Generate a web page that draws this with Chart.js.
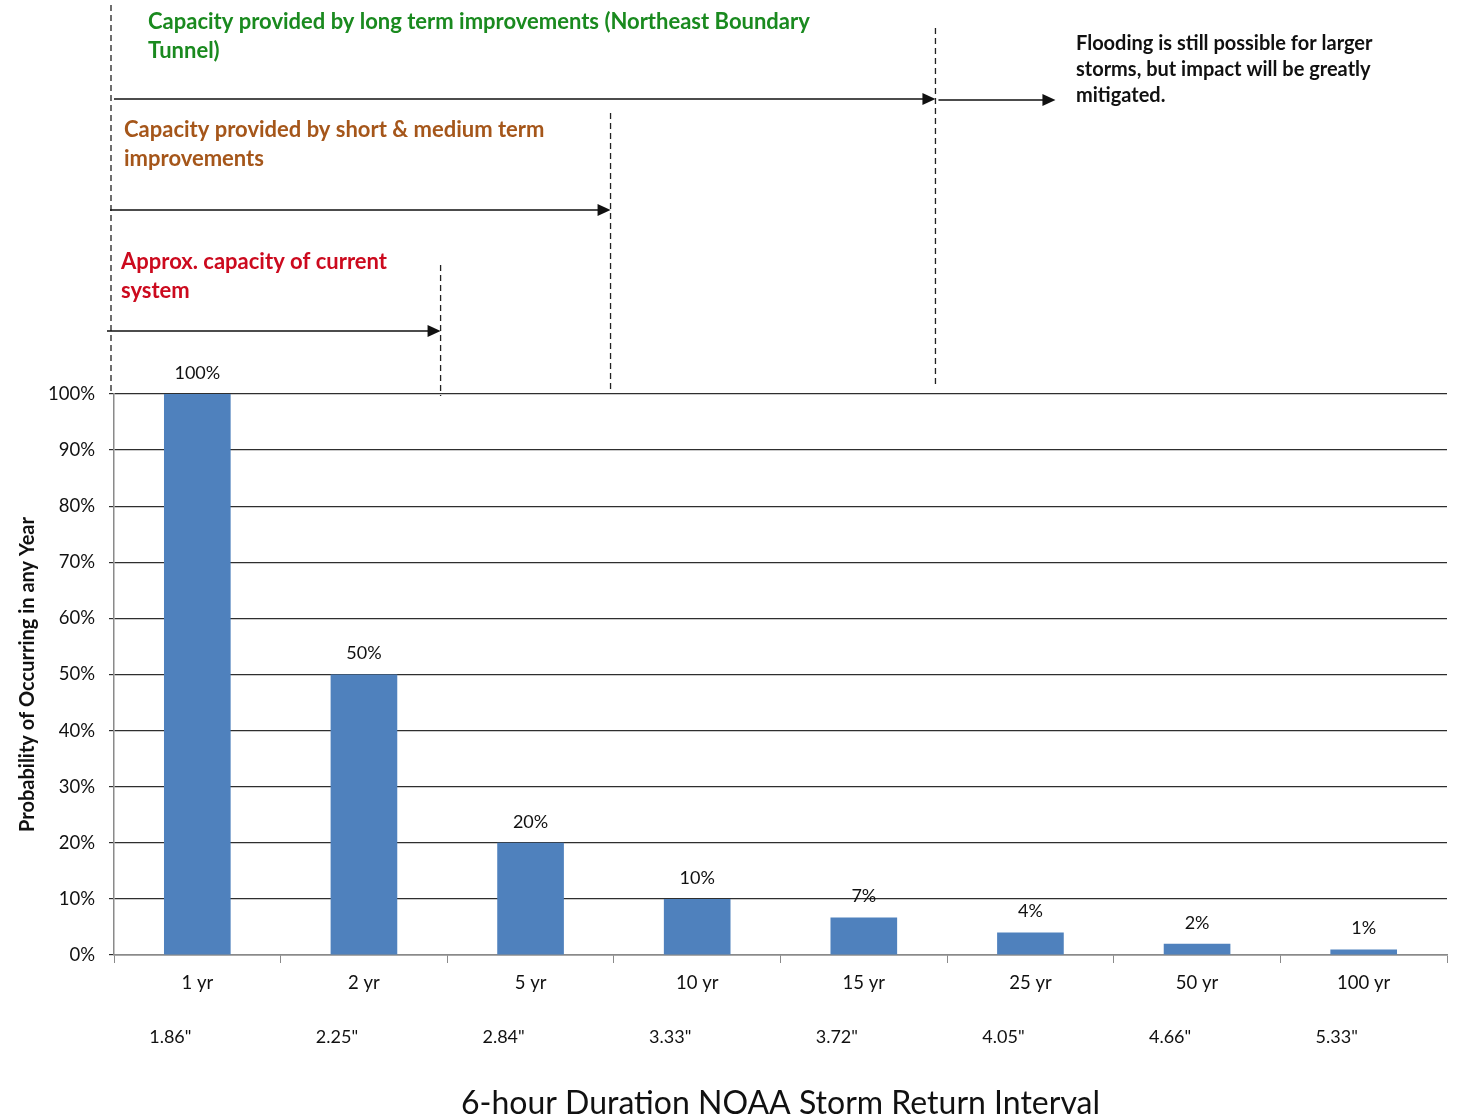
<!DOCTYPE html>
<html>
<head>
<meta charset="utf-8">
<script src="https://cdn.jsdelivr.net/npm/chart.js@4"></script>
<style>
  html, body { margin: 0; padding: 0; background: #fff; }
  #wrap { width: 1457px; height: 1118px; position: relative; }
</style>
</head>
<body>
<div id="wrap"><canvas id="stormChart"></canvas></div>
<script>
// categories and values
const intervals = ['1 yr', '2 yr', '5 yr', '10 yr', '15 yr', '25 yr', '50 yr', '100 yr'];
const probability = [100, 50, 20, 10, 6.67, 4, 2, 1];
const rainfall = ['1.86"', '2.25"', '2.84"', '3.33"', '3.72"', '4.05"', '4.66"', '5.33"'];
const yTicks = [0, 10, 20, 30, 40, 50, 60, 70, 80, 90, 100];

// capacity reach, in category units from the left edge of the axis
const capacityLimits = [1.96, 2.98, 4.93];

const FONT = 'Lato, "Open Sans", sans-serif';

const overlay = {
    id: 'overlay',
    afterDraw(chart) {
        const ctx = chart.ctx;
        const area = chart.chartArea;
        const xs = chart.scales.x;
        const unit = (area.right - area.left) / intervals.length;
        const capX = capacityLimits.map(c => area.left + c * unit);

        ctx.save();

        // value labels above bars
        const meta = chart.getDatasetMeta(0);
        ctx.fillStyle = '#111';
        ctx.font = '18px ' + FONT;
        ctx.textAlign = 'center';
        ctx.textBaseline = 'middle';
        meta.data.forEach((bar, i) => {
            ctx.fillText(Math.round(probability[i]) + '%', bar.x, bar.y - 21);
        });

        // rainfall depths row
        rainfall.forEach((r, i) => {
            ctx.fillText(r, xs.getPixelForValue(i) - 27, 1037);
        });

        // x axis title
        ctx.font = '32px ' + FONT;
        ctx.fillText('6-hour Duration NOAA Storm Return Interval', (area.left + area.right) / 2, 1104);

        // y axis title
        ctx.save();
        ctx.translate(28, (area.top + area.bottom) / 2);
        ctx.rotate(-Math.PI / 2);
        ctx.font = 'bold 20px ' + FONT;
        ctx.fillText('Probability of Occurring in any Year', 0, 0);
        ctx.restore();

        // dashed verticals
        const dashed = (x, y0, y1) => {
            ctx.beginPath();
            ctx.setLineDash([6, 4]);
            ctx.strokeStyle = '#222';
            ctx.lineWidth = 1.3;
            ctx.moveTo(x, y0);
            ctx.lineTo(x, y1);
            ctx.stroke();
            ctx.setLineDash([]);
        };
        dashed(area.left - 3, 5, area.top);
        dashed(capX[0], 265, area.top + 2);
        dashed(capX[1], 113, area.top - 2);
        dashed(capX[2], 28, area.top - 9);

        // arrows
        const arrow = (x0, x1, y) => {
            ctx.beginPath();
            ctx.strokeStyle = '#111';
            ctx.lineWidth = 1.5;
            ctx.moveTo(x0, y);
            ctx.lineTo(x1 - 10, y);
            ctx.stroke();
            ctx.beginPath();
            ctx.fillStyle = '#111';
            ctx.moveTo(x1, y);
            ctx.lineTo(x1 - 13, y - 6);
            ctx.lineTo(x1 - 13, y + 6);
            ctx.closePath();
            ctx.fill();
        };
        arrow(area.left - 7, capX[0], 331);
        arrow(area.left - 4, capX[1], 210);
        arrow(area.left, capX[2], 99);
        arrow(capX[2] + 3, capX[2] + 120, 100);

        // annotation text
        const lines = (txt, x, y, gap, color, size) => {
            ctx.fillStyle = color;
            ctx.font = 'bold ' + size + 'px ' + FONT;
            ctx.textAlign = 'left';
            ctx.textBaseline = 'middle';
            txt.forEach((t, i) => ctx.fillText(t, x, y + i * gap));
        };
        lines(['Capacity provided by long term improvements (Northeast Boundary', 'Tunnel)'],
            148, 22, 29, '#1a8a1f', 22);
        lines(['Capacity provided by short & medium term', 'improvements'],
            124, 130, 29, '#a5561a', 22);
        lines(['Approx. capacity of current', 'system'],
            121, 262, 29, '#cc0a1e', 22);
        lines(['Flooding is still possible for larger', 'storms, but impact will be greatly', 'mitigated.'],
            1076, 44, 26, '#111', 20);

        ctx.restore();
    }
};

new Chart(document.getElementById('stormChart'), {
    type: 'bar',
    data: {
        labels: intervals,
        datasets: [{
            data: probability,
            backgroundColor: '#4f81bd',
            borderWidth: 0,
            barPercentage: 0.4,
            categoryPercentage: 1.0
        }]
    },
    options: {
        responsive: true,
        maintainAspectRatio: false,
        animation: false,
        layout: { padding: { top: 394, right: 10, left: 0, bottom: 0 } },
        plugins: {
            legend: { display: false },
            tooltip: { enabled: false }
        },
        scales: {
            x: {
                grid: {
                    offset: true,
                    drawOnChartArea: false,
                    drawTicks: true,
                    tickLength: 8,
                    color: '#8a8a8a'
                },
                border: { color: '#8a8a8a', width: 1.5 },
                ticks: {
                    color: '#111',
                    font: { family: FONT, size: 18.5 },
                    padding: 9,
                    maxRotation: 0
                },
                afterFit(scale) { scale.height = 163; }
            },
            y: {
                min: 0,
                max: 100,
                afterBuildTicks(scale) { scale.ticks = yTicks.map(v => ({ value: v })); },
                grid: {
                    color: '#2e2e2e',
                    lineWidth: 1.2,
                    tickLength: 5
                },
                border: { color: '#8a8a8a', width: 1.5 },
                ticks: {
                    color: '#111',
                    font: { family: FONT, size: 18.5 },
                    padding: 14,
                    callback: v => v + '%'
                },
                afterFit(scale) { scale.width = 114; }
            }
        }
    },
    plugins: [overlay]
});
</script>
</body>
</html>
